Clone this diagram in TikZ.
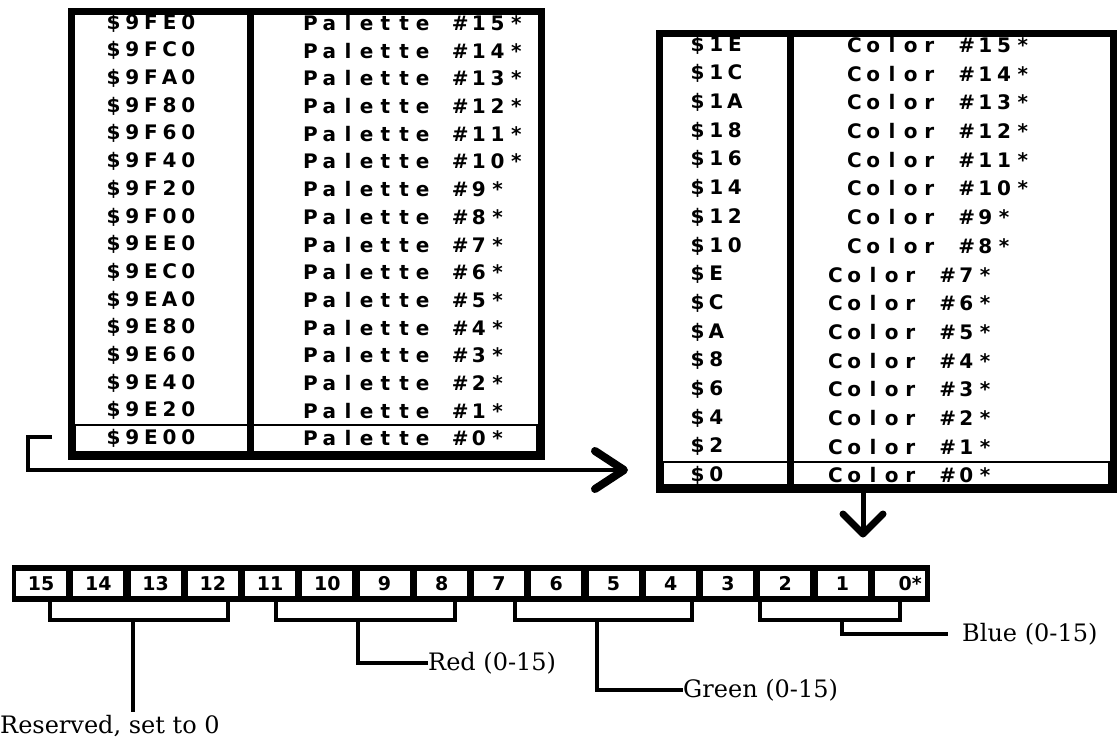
\documentclass[tikz,border=0pt]{standalone}
\usepackage{fontspec}
\newfontfamily\tabfont{DejaVu Sans}
\newfontfamily\lblfont{DejaVu Serif}
\newlength\cw
\def\mtend{\mtendmark}
\def\mt#1{\mtaux#1\mtend}
\def\mtaux#1{\ifx#1\mtend\else\makebox[\cw][c]{#1}\expandafter\mtaux\fi}
\tikzset{
  frame/.style={line width=7pt},
  thin/.style={line width=1.6pt},
  tab/.style={anchor=west,inner sep=0pt,font={\tabfont\bfseries\fontsize{20}{20}\selectfont\setlength\cw{18.7pt}}},
  bitcell/.style={fill=white,minimum width=50pt,minimum height=25pt,inner sep=0pt,font={\tabfont\bfseries\fontsize{19}{19}\selectfont}},
  brk/.style={line width=3.5pt},
  lbl/.style={inner sep=0pt,font={\lblfont\fontsize{24}{24}\selectfont}},
  chev/.style={line width=8pt,line cap=round,line join=round},
}
\begin{document}
\begin{tikzpicture}[x=1pt,y=-1pt]
\useasboundingbox (0,0) rectangle (1117,744);
% ---------- left table
\draw[frame] (71,11) rectangle (541,456);
\draw[frame] (250,11) -- (250,456);
\foreach \a/\n [count=\i from 0] in {9FE0/15,9FC0/14,9FA0/13,9F80/12,9F60/11,9F40/10,9F20/9,9F00/8,9EE0/7,9EC0/6,9EA0/5,9E80/4,9E60/3,9E40/2,9E20/1,9E00/0}{
  \pgfmathsetmacro\yy{23+27.7*\i}
  \edef\ta{\noexpand\mt{\noexpand\$\a}}
  \edef\tb{\noexpand\mt{Palette\noexpand~\noexpand\#\n*}}
  \node[tab] (la\i) at (104,\yy) {\ta};
  \node[tab] (lp\i) at (301,\yy) {\tb};
}
\draw[thin] (75,425) rectangle (537,452);
% ---------- right table
\draw[frame] (659,33) rectangle (1113,489);
\draw[frame] (790,33) -- (790,489);
\foreach \a/\n [count=\i from 0] in {1E/15,1C/14,1A/13,18/12,16/11,14/10,12/9,10/8,E/7,C/6,A/5,8/4,6/3,4/2,2/1,0/0}{
  \pgfmathsetmacro\yy{45+28.7*\i}
  \pgfmathsetmacro\cx{\n>7 ? 845 : 826}
  \edef\ta{\noexpand\mt{\noexpand\$\a}}
  \edef\tb{\noexpand\mt{Color\noexpand~\noexpand\#\n*}}
  \node[tab] (ra\i) at (688,\yy) {\ta};
  \node[tab] (rc\i) at (\cx,\yy) {\tb};
}
\draw[thin] (663,462) rectangle (1109,485);
% ---------- arrows
\coordinate (a0) at (52,437);
\coordinate (a1) at (28,437);
\coordinate (a2) at (28,470);
\coordinate (a3) at (624,470);
\draw[line width=4pt] (a0) -- (a1) -- (a2) -- (a3);
\draw[chev] (595,451) -- (a3) -- (595,489);
\coordinate (d0) at (863,492);
\coordinate (d1) at (863,534);
\draw[line width=5pt] (d0) -- (d1);
\draw[chev,line width=7pt] (843,514) -- (d1) -- (883,514);
% ---------- bit register
\fill (12,565) rectangle (930,602);
\foreach \b [count=\k from 0] in {15,14,13,12,11,10,9,8,7,6,5,4,3,2,1}{
  \node[bitcell] (bit\b) at ({41+57.25*\k},583.5) {\b};
}
\node[bitcell] (bit0) at ({41+57.25*15},583.5) {\makebox[44pt][r]{0*}};
% brackets
\draw[brk] (50,602) -- (50,620) -- (228,620) -- (228,602);
\draw[brk] (276,602) -- (276,620) -- (455,620) -- (455,602);
\draw[brk] (515,602) -- (515,620) -- (692,620) -- (692,602);
\draw[brk] (760,602) -- (760,620) -- (900,620) -- (900,602);
\node[lbl,anchor=west] (res) at (0,726) {Reserved, set to 0};
\node[lbl,anchor=west] (red) at (428,663) {Red (0-15)};
\node[lbl,anchor=west] (grn) at (683,690) {Green (0-15)};
\node[lbl,anchor=west] (blu) at (962,634) {Blue (0-15)};
\draw[brk] (133,620) -- (133,712);
\draw[brk] (358,620) -- (358,663) -- (red.west);
\draw[brk] (597,620) -- (597,690) -- (grn.west);
\draw[brk] (842,620) -- (842,634) -- ([xshift=-14pt]blu.west);
\end{tikzpicture}
\end{document}
